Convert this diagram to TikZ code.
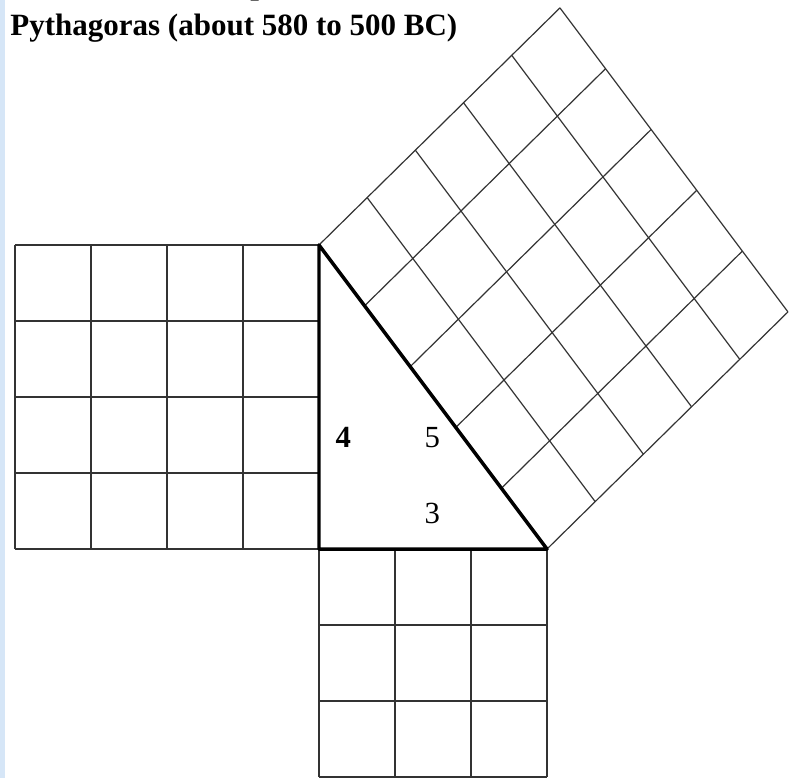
\documentclass[tikz,border=0pt]{standalone}
\usepackage{fontspec}
\setmainfont{Liberation Serif}
\usepackage{tikz}
\usetikzlibrary{calc}
\definecolor{pagestrip}{RGB}{214,230,247}
\tikzset{
    cellline/.style={line width=0.6pt, color=black!80},
    slantline/.style={line width=0.45pt, color=black!80},
    legline/.style={line width=1.3pt, line join=round},
    sidelabel/.style={font=\fontsize{11.5}{13}\selectfont, inner sep=0pt},
    titletext/.style={font=\bfseries\fontsize{11.6}{14}\selectfont, inner sep=0pt}
}

\begin{document}
\begin{tikzpicture}
        \useasboundingbox (-4.197,-3.013) rectangle (6.184,7.224);
        \fill[pagestrip] (-4.197,-3.013) rectangle (-4.13,7.224);

        \coordinate (C) at (0,0);
        \coordinate (A) at (0,4);
        \coordinate (B) at (3,0);

        % squares on the legs
        \foreach \i in {0,...,4} {
            \draw[cellline] (-\i,0) -- (-\i,4);
            \draw[cellline] (-4,\i) -- (0,\i);
        }
        \foreach \i in {0,...,3} {
            \draw[cellline] (\i,0) -- (\i,-3);
            \draw[cellline] (0,-\i) -- (3,-\i);
        }

        % square on the hypotenuse
        \foreach \i in {0,...,5} {
            \draw[slantline] ($(A)!\i/5!(B)$) -- ++(3.17,3.12);
            \draw[slantline] ($(A)+\i/5*(3.17,3.12)$) -- ++(3,-4);
        }

        \draw[legline] (A) -- (C) -- (B) -- cycle;

        \node[sidelabel, font=\bfseries\fontsize{11.5}{13}\selectfont] (four) at (0.32,1.47) {4};
        \node[sidelabel] (five) at (1.49,1.47) {5};
        \node[sidelabel] (three) at (1.49,0.47) {3};

        \node[titletext, anchor=base west] (cutline) at (-0.91,7.3) {p};
        \node[titletext, anchor=base west] (title) at (-4.066,6.763) {Pythagoras (about 580 to 500 BC)};
\end{tikzpicture}
\end{document}
